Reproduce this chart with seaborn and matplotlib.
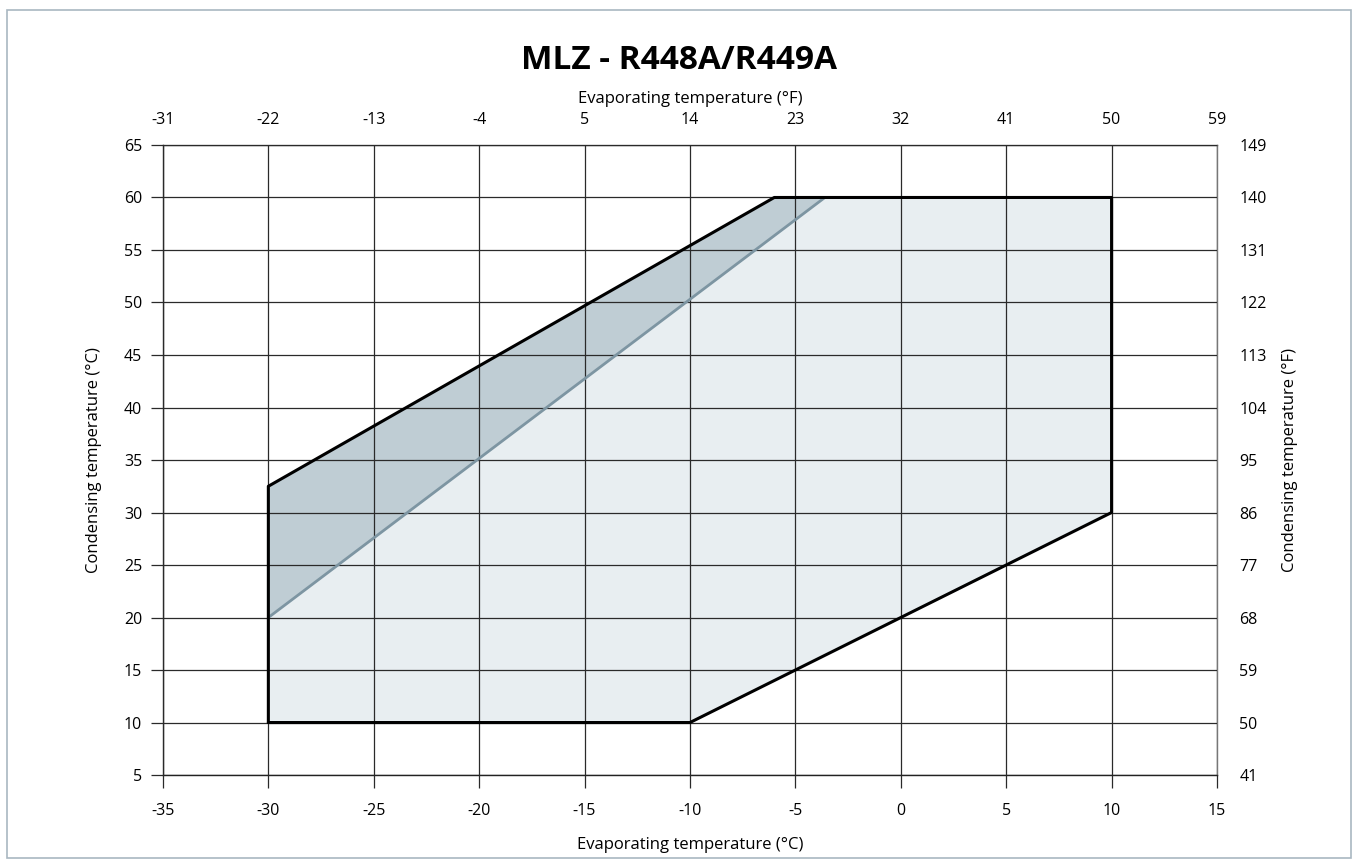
"""
MLZ compressor operating envelope, R448A/R449A.
"""

import matplotlib
matplotlib.use("Agg")
import matplotlib.pyplot as plt
import seaborn as sns
import pandas as pd
from matplotlib.patches import Rectangle

# Envelope outline (evaporating degC, condensing degC)
envelope_te = [-30, -10, 10, 10, -6, -30, -30]
envelope_tc = [10, 10, 30, 60, 60, 32.5, 10]

# Darker zone between the upper-left edge and the grey line
zone_te = [-30, -30, -6, -3.6]
zone_tc = [20, 32.5, 60, 60]

# Grey divider line
divider_te = [-30, -3.6]
divider_tc = [20, 60]

x_ticks_c = [-35, -30, -25, -20, -15, -10, -5, 0, 5, 10, 15]
y_ticks_c = [5, 10, 15, 20, 25, 30, 35, 40, 45, 50, 55, 60, 65]
x_ticks_f = [-31, -22, -13, -4, 5, 14, 23, 32, 41, 50, 59]
y_ticks_f = [41, 50, 59, 68, 77, 86, 95, 104, 113, 122, 131, 140, 149]

sns.set_style("white")
plt.rcParams["font.family"] = ["Open Sans", "DejaVu Sans"]
plt.rcParams["text.color"] = "black"
plt.rcParams["axes.labelcolor"] = "black"
plt.rcParams["xtick.color"] = "black"
plt.rcParams["ytick.color"] = "black"

fig = plt.figure(figsize=(13.59, 8.65), dpi=100)
ax = fig.add_axes([0.1199, 0.1040, 0.7756, 0.7284])

# Light outer fill, darker band
ax.fill(envelope_te, envelope_tc, color="#e8eef1", zorder=1)
ax.fill(zone_te, zone_tc, color="#bfcdd4", zorder=1.2)

outline = pd.DataFrame({"te": envelope_te, "tc": envelope_tc})
sns.lineplot(data=outline, x="te", y="tc", sort=False, estimator=None,
             color="black", lw=2.2, ax=ax, zorder=4)
divider = pd.DataFrame({"te": divider_te, "tc": divider_tc})
sns.lineplot(data=divider, x="te", y="tc", sort=False, estimator=None,
             color="#7d95a2", lw=2.0, ax=ax, zorder=3.5)

ax.set_xlim(-35, 15)
ax.set_ylim(5, 65)
ax.set_xticks(x_ticks_c)
ax.set_yticks(y_ticks_c)
ax.set_xticklabels([str(v) for v in x_ticks_c])
ax.set_yticklabels([str(v) for v in y_ticks_c])
ax.grid(True, color="#2a2a2a", lw=0.9, zorder=2)
ax.set_axisbelow(False)
ax.tick_params(axis="both", which="major", labelsize=11.5, length=9,
               width=0.9, color="#2a2a2a", direction="out",
               bottom=True, left=True)
ax.tick_params(axis="x", pad=11)
ax.tick_params(axis="y", pad=6)
for sp in ax.spines.values():
    sp.set_color("#222222")
    sp.set_linewidth(1.0)
ax.spines["right"].set_color("#777777")
ax.spines["top"].set_color("#555555")
ax.set_xlabel("Evaporating temperature (°C)", fontsize=12, labelpad=13)
ax.set_ylabel("Condensing temperature (°C)", fontsize=12, labelpad=16)

# Fahrenheit secondary axes
ax_top = ax.twiny()
ax_top.set_xlim(ax.get_xlim())
ax_top.set_xticks(x_ticks_c)
ax_top.set_xticklabels([str(v) for v in x_ticks_f])
ax_top.tick_params(axis="x", labelsize=11.5, length=0, pad=12)
ax_top.set_xlabel("Evaporating temperature (°F)", fontsize=12, labelpad=7)

ax_right = ax.twinx()
ax_right.set_ylim(ax.get_ylim())
ax_right.set_yticks(y_ticks_c)
ax_right.set_yticklabels([str(v) for v in y_ticks_f])
ax_right.tick_params(axis="y", labelsize=11.5, length=0, pad=16)
ax_right.set_ylabel("Condensing temperature (°F)", fontsize=12, labelpad=11)
for a in (ax_top, ax_right):
    for sp in a.spines.values():
        sp.set_visible(False)

fig.text(0.4995, 0.930, "MLZ - R448A/R449A", ha="center", va="center",
         fontsize=24, fontweight="bold")

# Thin frame around the whole figure
fig.patches.append(Rectangle((7 / 1359, 7 / 865), 1344 / 1359, 848 / 865,
                             transform=fig.transFigure, fill=False,
                             edgecolor="#a9b7c1", lw=1.2))

plt.savefig("out.png", dpi=100)
plt.close()
